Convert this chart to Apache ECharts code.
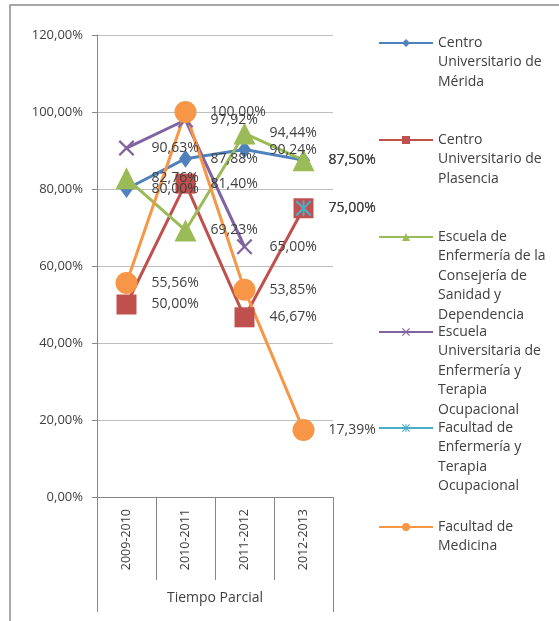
<!DOCTYPE html>
<html>
<head>
<meta charset="utf-8">
<script src="https://cdn.jsdelivr.net/npm/echarts@6/dist/echarts.min.js"></script>
<style>
  html, body { margin: 0; padding: 0; background: #fff; }
  #chart { width: 559px; height: 621px; }
</style>
</head>
<body>
<div id="chart"></div>
<script>
// datos
const categorias = ['2009-2010', '2010-2011', '2011-2012', '2012-2013'];
const grupo = ['Tiempo Parcial'];

const nombres = [
    'Centro Universitario de Mérida',
    'Centro Universitario de Plasencia',
    'Escuela de Enfermería de la Consejería de Sanidad y Dependencia',
    'Escuela Universitaria de Enfermería y Terapia Ocupacional',
    'Facultad de Enfermería y Terapia Ocupacional',
    'Facultad de Medicina'
];
const lineasLeyenda = [
    ['Centro', 'Universitario de', 'Mérida'],
    ['Centro', 'Universitario de', 'Plasencia'],
    ['Escuela de', 'Enfermería de la', 'Consejería de', 'Sanidad y', 'Dependencia'],
    ['Escuela', 'Universitaria de', 'Enfermería y', 'Terapia', 'Ocupacional'],
    ['Facultad de', 'Enfermería y', 'Terapia', 'Ocupacional'],
    ['Facultad de', 'Medicina']
];

const merida = [80.00, 87.88, 90.24, 87.50];
const plasencia = [50.00, 81.40, 46.67, 75.00];
const escuelaConsejeria = [82.76, 69.23, 94.44, 87.50];
const escuelaUniversitaria = [90.63, 97.92, 65.00, null];
const facultadEnfermeria = [null, null, null, 75.00];
const medicina = [55.56, 100.00, 53.85, 17.39];

const valores = [merida, plasencia, escuelaConsejeria, escuelaUniversitaria, facultadEnfermeria, medicina];

// estilo
const colores = ['#4F81BD', '#C0504D', '#9BBB59', '#8064A2', '#4BACC6', '#F79646'];
const simboloX = 'path://M0,1L1,0L5,4L9,0L10,1L6,5L10,9L9,10L5,6L1,10L0,9L4,5Z';
const simboloEstrella = 'path://M0,1L1,0L5,4L9,0L10,1L6,5L10,9L9,10L5,6L1,10L0,9L4,5Z M4.4,0L5.6,0L5.6,10L4.4,10Z';
const simbolos = ['diamond', 'rect', 'triangle', simboloX, simboloEstrella, 'circle'];
const tamanos = [[13, 18], 20, 22, 16, 16, 22];
const topsLeyenda = [43, 140, 237, 332, 428, 527];
const alto = 19.5;

function pct(v) {
    return v.toFixed(2).replace('.', ',') + '%';
}

let myChart = echarts.init(document.getElementById('chart'));

let series = valores.map(function(datos, i) {
    let t = tamanos[i];
    let ancho = Array.isArray(t) ? t[0] : t;
    return {
        name: nombres[i],
        type: 'line',
        data: datos,
        symbol: simbolos[i],
        symbolSize: t,
        showAllSymbol: true,
        connectNulls: false,
        color: colores[i],
        lineStyle: { width: 3, color: colores[i] },
        itemStyle: { color: colores[i] },
        label: {
            show: true,
            position: 'right',
            distance: 25 - ancho / 2,
            color: '#404040',
            fontFamily: 'Open Sans',
            fontSize: 14,
            formatter: function(p) { return pct(p.value); }
        },
        emphasis: { disabled: true },
        animation: false
    };
});

// cada entrada de la leyenda por separado, con la marca a la altura de la primera línea
let leyendas = nombres.map(function(n, i) {
    let lineas = lineasLeyenda[i];
    let vacias = [];
    for (let k = 1; k < lineas.length; k++) vacias.push(' ');
    let texto = vacias.concat(lineas).join('\n');
    return {
        data: [n],
        left: 378,
        top: topsLeyenda[i] - (2 * lineas.length - 1) * alto / 2,
        orient: 'vertical',
        itemWidth: 54,
        itemHeight: 10,
        itemGap: 0,
        padding: 0,
        selectedMode: false,
        formatter: function() { return texto; },
        textStyle: {
            color: '#404040',
            fontFamily: 'Open Sans',
            fontSize: 14,
            lineHeight: alto
        }
    };
});

let option = {
    backgroundColor: '#fff',
    animation: false,
    textStyle: { fontFamily: 'Open Sans' },
    graphic: [{
        type: 'rect',
        shape: { x: 10, y: 5, width: 600, height: 700 },
        style: { fill: 'none', stroke: '#8c8c8c', lineWidth: 1.5 },
        silent: true
    }],
    legend: leyendas,
    grid: { left: 97, right: 226, top: 35, bottom: 124, containLabel: false },
    xAxis: [
        {
            type: 'category',
            data: categorias,
            boundaryGap: true,
            axisLine: { lineStyle: { color: '#868686', width: 1 } },
            axisTick: { show: true, interval: 0, length: 83, lineStyle: { color: '#868686' } },
            axisLabel: {
                rotate: 90,
                interval: 0,
                margin: 12,
                color: '#404040',
                fontFamily: 'Open Sans',
                fontSize: 12.5
            },
            splitLine: { show: false }
        },
        {
            type: 'category',
            data: grupo,
            position: 'bottom',
            offset: 83,
            boundaryGap: true,
            axisLine: { show: false },
            axisTick: { show: true, interval: 0, length: 32, lineStyle: { color: '#868686' } },
            axisLabel: {
                margin: 11,
                color: '#404040',
                fontFamily: 'Open Sans',
                fontSize: 14
            },
            splitLine: { show: false }
        }
    ],
    yAxis: {
        type: 'value',
        min: 0,
        max: 120,
        interval: 20,
        axisLine: { show: true, lineStyle: { color: '#868686', width: 1 } },
        axisTick: { show: true, length: 5, lineStyle: { color: '#868686' } },
        axisLabel: {
            margin: 14,
            color: '#404040',
            fontFamily: 'Open Sans',
            fontSize: 13,
            formatter: function(v) { return pct(v); }
        },
        splitLine: { lineStyle: { color: '#bfbfbf', width: 1 } }
    },
    series: series
};
myChart.setOption(option);
</script>
</body>
</html>
